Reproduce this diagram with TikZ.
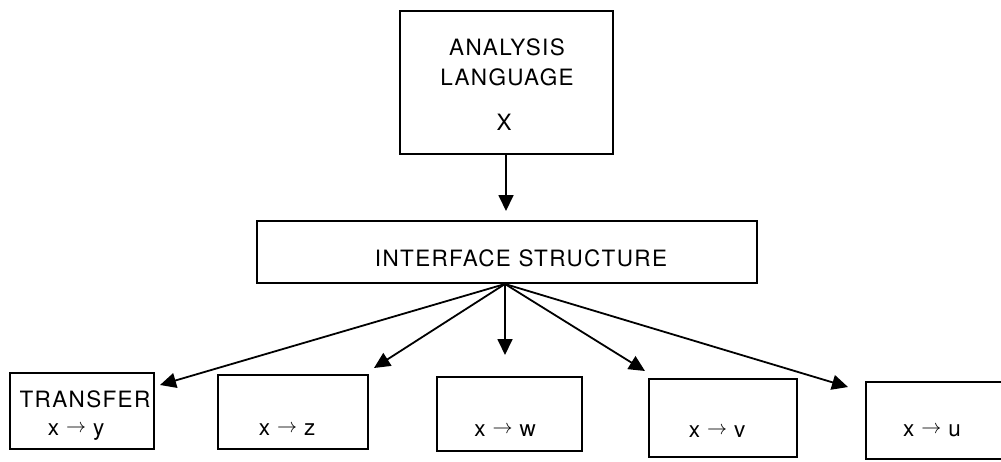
\documentclass[tikz,border=0pt]{standalone}
\usepackage{fontspec}
\setmainfont[LetterSpace=6]{TeX Gyre Heros}
\usetikzlibrary{arrows.meta}
\newcommand{\arr}{\hspace{7pt}\raisebox{3pt}{\resizebox{20pt}{!}{$\rightarrow$}}\hspace{7pt}}
\begin{document}
\begin{tikzpicture}[x=1pt,y=-1pt,
  box/.style={draw,line width=2.2pt,inner sep=0pt,outer sep=0pt},
  lbl/.style={inner sep=0pt,anchor=base,font=\fontsize{22.5}{22.5}\selectfont},
  conn/.style={line width=1.8pt,-{Triangle[length=16pt,width=15pt]}}]
\useasboundingbox (0,0) rectangle (1001,461);
\clip (0,0) rectangle (1001,461);
% boxes
\node[box,minimum width=213pt,minimum height=143pt] (top) at (506.5,82.5) {};
\node[box,minimum width=500pt,minimum height=62pt] (iface) at (507,252) {};
\node[box,minimum width=144pt,minimum height=76pt] (t) at (82,411) {};
\node[box,minimum width=150pt,minimum height=74pt] (z) at (293,412) {};
\node[box,minimum width=145pt,minimum height=74pt] (w) at (509.5,414) {};
\node[box,minimum width=148pt,minimum height=78pt] (v) at (723,418) {};
\node[box,minimum width=160pt,minimum height=77pt] (u) at (946,420.5) {};
% labels
\node[lbl] (l1) at (507,55) {ANALYSIS};
\node[lbl] (l2) at (507,85) {LANGUAGE};
\node[lbl] (l3) at (504,130) {X};
\node[lbl] (l4) at (521,266) {INTERFACE STRUCTURE};
\node[lbl] (l5) at (85,407) {TRANSFER};
\node[lbl] (l6) at (76,435) {x\arr y};
\node[lbl] (l7) at (287,435) {x\arr z};
\node[lbl] (l8) at (505,436) {x\arr w};
\node[lbl] (l9) at (717,437) {x\arr v};
\node[lbl] (l10) at (932,436) {x\arr u};
% connector points
\coordinate (fan) at (505,284);
\coordinate (tip0) at (506,211);
\coordinate (tipt) at (160,385);
\coordinate (tipz) at (374,368);
\coordinate (tipw) at (505,355);
\coordinate (tipv) at (645,371);
\coordinate (tipu) at (848,387);
% connectors
\draw[conn] (top.south -| tip0) -- (tip0);
\draw[conn] (fan) -- (tipt);
\draw[conn] (fan) -- (tipz);
\draw[conn] (fan) -- (tipw);
\draw[conn] (fan) -- (tipv);
\draw[conn] (fan) -- (tipu);
\end{tikzpicture}
\end{document}
